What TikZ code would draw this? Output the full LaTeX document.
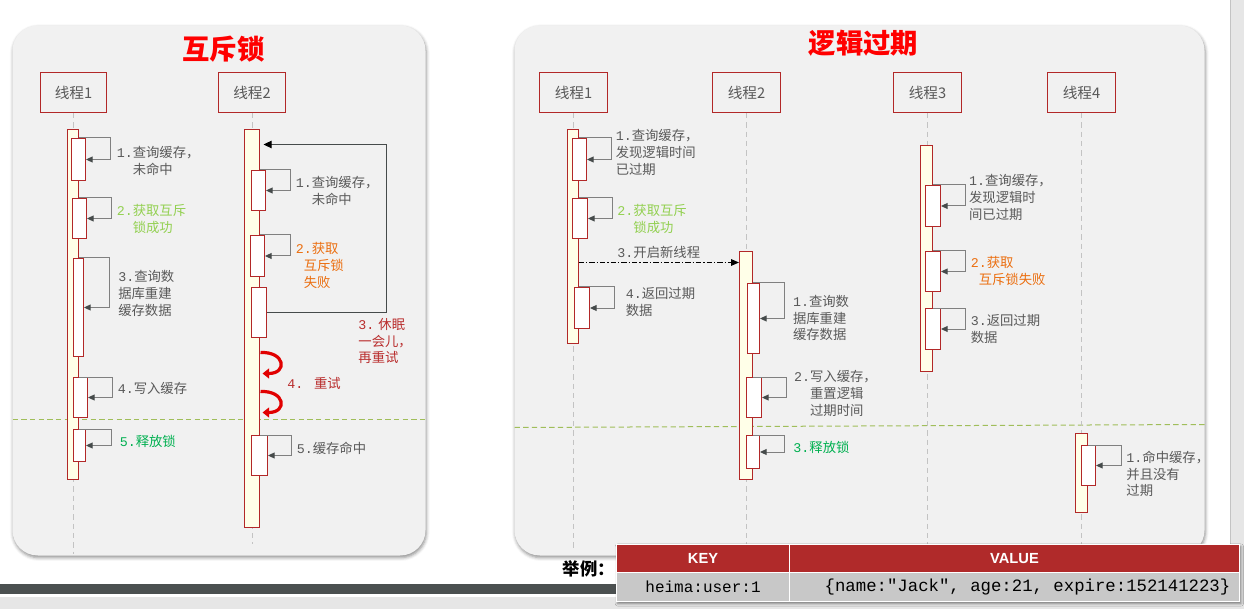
\documentclass[tikz,border=0pt]{standalone}
\usepackage{fontspec}
\setmainfont{Noto Sans CJK SC}
\newfontfamily\seqfont{Liberation Mono}
\newfontfamily\cellfont{Liberation Mono}
\newfontfamily\headfont{Liberation Sans}
\usepackage{tikz}
\usetikzlibrary{arrows.meta}
\usetikzlibrary{fit}
\usetikzlibrary{shadows.blur}
\usetikzlibrary{positioning}

\definecolor{panelgray}{RGB}{241,241,241}
\definecolor{boxred}{RGB}{178,40,40}
\definecolor{actyellow}{RGB}{255,255,232}
\definecolor{labelgray}{RGB}{89,89,89}
\definecolor{callgray}{RGB}{128,128,128}
\definecolor{tipgray}{RGB}{70,75,75}
\definecolor{lifegray}{RGB}{195,195,195}
\definecolor{sepgreen}{RGB}{160,190,90}
\definecolor{lightgreen}{RGB}{146,208,80}
\definecolor{darkgreen}{RGB}{0,176,80}
\definecolor{failorange}{RGB}{235,110,15}
\definecolor{sleepred}{RGB}{185,45,45}
\definecolor{retryred}{RGB}{225,0,0}
\definecolor{titlered}{RGB}{255,0,0}
\definecolor{tablered}{RGB}{176,42,42}
\definecolor{cellgray}{RGB}{200,200,200}
\definecolor{bardark}{RGB}{75,80,80}
\definecolor{stripgray}{RGB}{230,230,230}

\newcommand{\stepno}[1]{{\seqfont #1}}

\begin{document}
\begin{tikzpicture}[x=0.75pt,y=0.75pt,yscale=-1,xscale=1,
  panel/.style={fill=panelgray, rounded corners=19pt,
    blur shadow={shadow xshift=0.6pt, shadow yshift=-1.6pt, shadow blur radius=2.5pt, shadow opacity=45}},
  headline/.style={font=\bfseries\fontsize{20.5}{24}\selectfont, text=titlered, inner sep=0pt},
  thread/.style={draw=boxred, line width=0.75pt, minimum width=51pt, minimum height=30pt, inner sep=0pt,
    text=labelgray, font=\fontsize{11}{13}\selectfont},
  life/.style={draw=lifegray, line width=0.75pt, dash pattern=on 4pt off 3pt},
  act/.style={draw=boxred, line width=0.75pt, fill=actyellow, inner sep=0pt},
  sub/.style={draw=boxred, line width=0.75pt, fill=white, inner sep=0pt},
  selfcall/.style={draw=callgray, line width=0.75pt, {Triangle[length=5pt,width=4.5pt,color=tipgray]}-},
  note/.style={font=\fontsize{10}{12.4}\selectfont, text=labelgray, inner sep=0pt, align=left},
  lbl/.style={note, anchor=north west},
  sep/.style={draw=sepgreen, line width=0.75pt, dash pattern=on 4pt off 2.5pt},
  retry/.style={draw=retryred, line width=2.4pt, -{Triangle[length=5pt,width=7.5pt]}},
  wakeup/.style={draw=tipgray, line width=0.75pt, -{Triangle[length=6pt,width=5.5pt,color=black]}},
  spawnline/.style={draw=black, line width=0.75pt, dash pattern=on 4pt off 1.5pt on 1pt off 1.5pt,
    -{Triangle[length=6pt,width=5pt]}},
  cell/.style={draw=white, line width=1.2pt, inner sep=0pt},
]
\useasboundingbox (0,0) rectangle (1244,609);

\begin{scope}[shift={(0.5,0.5)}]
%Shape: Rectangle [background strips]
\fill[stripgray] (1230,0) rectangle (1244,609);
\draw[lifegray, line width=0.75pt] (1230,0) -- (1230,609);
\fill[bardark] (-1,583) rectangle (1230,593);
\fill[stripgray] (-1,596) rectangle (1244,609);

%Shape: Rounded Rectangle [left panel]
\path[panel] (12,25) rectangle (425,555);
%Shape: Rounded Rectangle [right panel]
\path[panel] (514,25) rectangle (1204,555);

% Text Node
\node[headline] (ltitle) at (223,49) {互斥锁};
% Text Node
\node[headline] (rtitle) at (863,43) {逻辑过期};

%Straight Lines [separators]
\draw[sep] (12,419) -- (425,419);
\draw[sep] (514,427) -- (1204,424);

%Shape: Rectangle [thread heads]
\node[thread, minimum width=49.5pt] (lt1) at (73,92) {线程1};
\node[thread, minimum width=50.25pt] (lt2) at (251.5,92) {线程2};
\node[thread] (rt1) at (573,92) {线程1};
\node[thread] (rt2) at (746,92) {线程2};
\node[thread] (rt3) at (927,92) {线程3};
\node[thread] (rt4) at (1081,92) {线程4};

\coordinate (lbot) at (0,553);
\coordinate (lbot2) at (0,543);
\coordinate (rbot) at (0,551);

%Straight Lines [lifelines]
\draw[life] (lt1) -- (lt1 |- lbot);
\draw[life] (lt2) -- (lt2 |- lbot2);
\draw[life] (rt1) -- (rt1 |- rbot);
\draw[life] (rt2) -- (rt2 |- rbot);
\draw[life] (rt3) -- (rt3 |- rbot);
\draw[life] (rt4) -- (rt4 |- rbot);

%Shape: Rectangle [left thread 1]
\node[act, fit={(67,129) (78,479)}] (la1) {};
\node[sub, fit={(71,138) (85,180)}] (la1s1) {};
\node[sub, fit={(72,198) (86,238)}] (la1s2) {};
\node[sub, fit={(73,258) (83,356)}] (la1s3) {};
\node[sub, fit={(73,377) (87,417)}] (la1s4) {};
\node[sub, fit={(73,429) (85,461)}] (la1s5) {};

%Shape: Rectangle [left thread 2]
\node[act, fit={(244,129) (259,527)}] (la2) {};
\node[sub, fit={(251,170) (265,210)}] (la2s1) {};
\node[sub, fit={(250,235) (264,276)}] (la2s2) {};
\node[sub, fit={(251,287) (266,337)}] (la2s3) {};
\node[sub, fit={(251,435) (267,475)}] (la2s5) {};

%Shape: Rectangle [right threads]
\node[act, fit={(567,129) (578,343)}] (ra1) {};
\node[sub, fit={(572,138) (586,180)}] (ra1s1) {};
\node[sub, fit={(572,198) (587,238)}] (ra1s2) {};
\node[sub, fit={(574,287) (589,328)}] (ra1s4) {};
\node[act, fit={(739,251) (752,479)}] (ra2) {};
\node[sub, fit={(747,283) (759,353)}] (ra2s1) {};
\node[sub, fit={(746,377) (761,417)}] (ra2s2) {};
\node[sub, fit={(746,435) (759,468)}] (ra2s3) {};
\node[act, fit={(920,145) (932,371)}] (ra3) {};
\node[sub, fit={(925,185) (940,226)}] (ra3s1) {};
\node[sub, fit={(925,251) (940,291)}] (ra3s2) {};
\node[sub, fit={(925,308) (940,349)}] (ra3s3) {};
\node[act, fit={(1075,433) (1087,512)}] (ra4) {};
\node[sub, fit={(1081,445) (1095,485)}] (ra4s1) {};

%Straight Lines [self calls]
\draw[selfcall] (la1s1.east) -- ++(24,0) |- (la1.east |- la1s1.north);
\draw[selfcall] (la1s2.east) -- ++(24,0) |- (la1.east |- la1s2.north);
\draw[selfcall] (la1s3.east) -- ++(25,0) |- (la1.east |- la1s3.north);
\draw[selfcall] (la1s4.east) -- ++(24,0) |- (la1.east |- la1s4.north);
\draw[selfcall] (la1s5.east) -- ++(25,0) |- (la1.east |- la1s5.north);
\draw[selfcall] (la2s1.east) -- ++(24,0) |- (la2.east |- la2s1.north);
\draw[selfcall] (la2s2.east) -- ++(25,0) |- (la2.east |- la2s2.north);
\draw[selfcall] (la2s5.east) -- ++(23,0) |- (la2.east |- la2s5.north);
\draw[selfcall] (ra1s1.east) -- ++(24,0) |- (ra1.east |- ra1s1.north);
\draw[selfcall] (ra1s2.east) -- ++(24,0) |- (ra1.east |- ra1s2.north);
\draw[selfcall] (ra1s4.east) -- ++(24,0) |- (ra1.east |- ra1s4.north);
\draw[selfcall] (ra2s1.east) -- ++(24,0) |- (ra2.east |- ra2s1.north);
\draw[selfcall] (ra2s2.east) -- ++(24,0) |- (ra2.east |- ra2s2.north);
\draw[selfcall] (ra2s3.east) -- ++(24,0) |- (ra2.east |- ra2s3.north);
\draw[selfcall] (ra3s1.east) -- ++(24,0) |- (ra3.east |- ra3s1.north);
\draw[selfcall] (ra3s2.east) -- ++(24,0) |- (ra3.east |- ra3s2.north);
\draw[selfcall] (ra3s3.east) -- ++(24,0) |- (ra3.east |- ra3s3.north);
\draw[selfcall] (ra4s1.east) -- ++(25,0) |- (ra4.east |- ra4s1.north);

%Straight Lines [sleep and retry loop]
\coordinate (wake) at (263,144);
\draw[wakeup] (la2s3.east) -- ++(119,0) |- (wake);

%Curve Lines [retry]
\draw[retry] (260,352) .. controls (285,351) and (287,373) .. (262,373);
\draw[retry] (260,391) .. controls (285,390) and (287,412) .. (262,412);

%Straight Lines [new thread]
\coordinate (spawn) at (578,262);
\draw[spawnline] (spawn) -- (ra2.west |- spawn)
  node[note, midway, above=2.5pt] (spawnlbl) {\stepno{3.}开启新线程};

% Text Node [left labels]
\node[lbl] (la1l1) at (116,146) {\stepno{1.}查询缓存，\\\phantom{\stepno{1.}}未命中};
\node[lbl, text=lightgreen] (la1l2) at (116,204) {\stepno{2.}获取互斥\\\phantom{\stepno{2.}}锁成功};
\node[lbl] (la1l3) at (117.5,270) {\stepno{3.}查询数\\据库重建\\缓存数据};
\node[lbl] (la1l4) at (117,382) {\stepno{4.}写入缓存};
\node[lbl, text=darkgreen] (la1l5) at (119,434) {\stepno{5.}释放锁};
\node[lbl] (la2l1) at (295,176) {\stepno{1.}查询缓存，\\\phantom{\stepno{1.}}未命中};
\node[lbl, text=failorange] (la2l2) at (295,242) {\stepno{2.}获取\\\hspace*{6pt}互斥锁\\\hspace*{6pt}失败};
\node[lbl, text=sleepred] (la2l3) at (357.7,318) {\stepno{3.} 休眠\\一会儿，\\再重试};
\node[lbl, text=sleepred] (la2l4) at (286.7,377) {\stepno{4. }重试};
\node[lbl] (la2l5) at (296,441) {\stepno{5.}缓存命中};

% Text Node [right labels]
\node[lbl] (ra1l1) at (615,129) {\stepno{1.}查询缓存，\\发现逻辑时间\\已过期};
\node[lbl, text=lightgreen] (ra1l2) at (616.7,204) {\stepno{2.}获取互斥\\\phantom{\stepno{2.}}锁成功};
\node[lbl] (ra1l4) at (625,287) {\stepno{4.}返回过期\\数据};
\node[lbl] (ra2l1) at (792.3,294.7) {\stepno{1.}查询数\\据库重建\\缓存数据};
\node[lbl] (ra2l2) at (793.3,370) {\stepno{2.}写入缓存，\\\phantom{\stepno{2.}}重置逻辑\\\phantom{\stepno{2.}}过期时间};
\node[lbl, text=darkgreen] (ra2l3) at (792.7,440.7) {\stepno{3.}释放锁};
\node[lbl] (ra3l1) at (968.3,174) {\stepno{1.}查询缓存，\\发现逻辑时\\间已过期};
\node[lbl, text=failorange] (ra3l2) at (970,256) {\stepno{2.}获取\\\hspace*{6pt}互斥锁失败};
\node[lbl] (ra3l3) at (970,314) {\stepno{3.}返回过期\\数据};
\node[lbl] (ra4l1) at (1125.7,450.7) {\stepno{1.}命中缓存，\\并且没有\\过期};

% Text Node [example]
\node[anchor=west, inner sep=0pt, font=\bfseries\fontsize{13}{15}\selectfont] (example) at (562,568) {举例：};

%Shape: Table
\path[fill=cellgray, blur shadow={shadow xshift=1pt, shadow yshift=-1.5pt, shadow blur radius=2pt, shadow opacity=50}]
  (616,544) rectangle (1239,601);
\node[cell, fill=tablered, minimum width=129.75pt, minimum height=21pt, text=white,
  font=\headfont\bfseries\fontsize{11}{13}\selectfont] (keyhead) at (702.5,558) {KEY};
\node[cell, fill=tablered, minimum width=337.5pt, minimum height=21pt, text=white,
  font=\headfont\bfseries\fontsize{11}{13}\selectfont] (valhead) at (1014,558) {VALUE};
\node[cell, fill=cellgray, minimum width=129.75pt, minimum height=21.75pt,
  font=\cellfont\fontsize{12}{14}\selectfont] (keycell) at (702.5,586.5) {heima:user:1};
\node[cell, fill=cellgray, minimum width=337.5pt, minimum height=21.75pt,
  font=\cellfont\fontsize{13}{15}\selectfont] (valcell) at (1014,586.5) {\hspace*{19.5pt}\{name:"Jack", age:21, expire:152141223\}};
\end{scope}

\end{tikzpicture}
\end{document}
